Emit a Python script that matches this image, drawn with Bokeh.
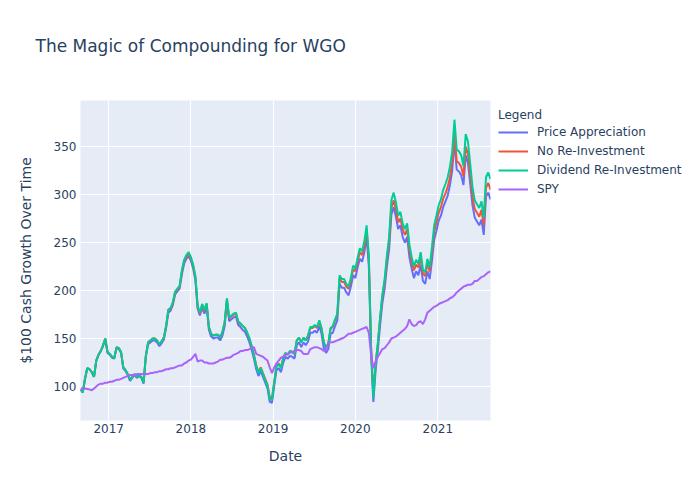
import pandas as pd
from bokeh.plotting import figure
from bokeh.models import (Range1d, FixedTicker, DatetimeTickFormatter, Legend,
                          LegendItem, ColumnDataSource, Title)
from bokeh.embed import file_html
from bokeh.resources import INLINE

# ---------------- data ----------------
start_date = "2016-08-29"
sample_step = "10D"

div_reinvest = [
    97, 94, 108, 119, 118, 115, 110, 127, 133, 137,
    143, 150, 136, 134, 131, 130, 141, 140, 136, 120,
    117, 113, 107, 110, 113, 110, 112, 110, 104, 132,
    146, 148, 150, 150, 148, 144, 147, 151, 163, 180,
    182, 188, 199, 202, 205, 221, 232, 237, 240, 235,
    227, 215, 184, 177, 186, 180, 187, 162, 155, 153,
    154, 154, 151, 157, 167, 192, 172, 174, 176, 177,
    168, 166, 163, 161, 156, 150, 142, 133, 121, 114,
    119, 113, 107, 101, 87, 86, 104, 121, 123, 119,
    129, 135, 133, 137, 136, 134, 148, 151, 146, 151,
    148, 153, 162, 162, 164, 162, 169, 161, 146, 140,
    145, 161, 163, 170, 176, 216, 212, 212, 207, 204,
    213, 226, 223, 234, 244, 241, 251, 268, 236, 140,
    88, 123, 145, 172, 196, 212, 236, 256, 294, 302,
    292, 278, 282, 270, 264, 270, 248, 235, 225, 232,
    228, 240, 222, 219, 233, 224, 245, 268, 278, 289,
    295, 305, 311, 318, 329, 345, 378, 347, 345, 341,
    330, 363, 355, 332, 308, 294, 290, 286, 293, 276,
    318, 323, 316,
]

price_appreciation = [
    97, 94, 108, 119, 118, 115, 110, 127, 133, 137,
    142, 149, 135, 133, 130, 129, 140, 139, 135, 119,
    116, 112, 106, 109, 112, 109, 111, 109, 103, 131,
    144, 146, 148, 148, 146, 142, 145, 149, 161, 177,
    179, 185, 196, 199, 202, 217, 228, 233, 236, 231,
    223, 211, 181, 174, 182, 176, 183, 159, 152, 150,
    151, 151, 148, 153, 163, 188, 168, 170, 172, 173,
    164, 162, 159, 157, 152, 146, 138, 129, 118, 111,
    116, 110, 104, 98, 84, 83, 101, 117, 119, 115,
    125, 131, 129, 132, 131, 129, 143, 146, 141, 146,
    143, 147, 156, 156, 158, 156, 163, 155, 140, 135,
    139, 155, 156, 163, 169, 207, 203, 203, 198, 195,
    204, 216, 213, 224, 233, 230, 240, 256, 225, 134,
    84, 117, 138, 164, 187, 202, 225, 243, 279, 287,
    277, 264, 268, 256, 250, 256, 235, 223, 213, 220,
    216, 227, 210, 207, 220, 212, 231, 253, 262, 273,
    278, 287, 293, 299, 310, 325, 356, 326, 324, 320,
    310, 341, 333, 311, 289, 276, 272, 268, 274, 258,
    298, 302, 295,
]

no_reinvest = [
    97, 94, 108, 119, 118, 115, 110, 127, 133, 137,
    143, 150, 136, 134, 131, 130, 141, 140, 136, 120,
    117, 113, 107, 110, 113, 110, 112, 110, 104, 132,
    146, 148, 150, 150, 148, 144, 147, 151, 163, 180,
    181, 187, 198, 201, 204, 220, 231, 235, 238, 233,
    226, 214, 183, 176, 185, 179, 186, 162, 155, 153,
    154, 154, 151, 157, 167, 191, 171, 173, 175, 176,
    167, 165, 163, 161, 156, 150, 142, 133, 122, 115,
    120, 114, 108, 102, 89, 88, 105, 122, 124, 120,
    130, 135, 133, 137, 136, 134, 148, 151, 146, 151,
    148, 153, 161, 161, 163, 161, 168, 160, 146, 140,
    145, 160, 162, 169, 175, 213, 209, 209, 204, 202,
    210, 222, 220, 230, 240, 237, 246, 263, 232, 140,
    91, 124, 145, 171, 194, 209, 232, 251, 286, 294,
    285, 271, 275, 264, 258, 264, 243, 230, 221, 227,
    224, 235, 218, 215, 228, 220, 240, 261, 271, 281,
    287, 296, 301, 308, 318, 333, 364, 335, 333, 329,
    319, 350, 342, 320, 298, 285, 281, 277, 284, 268,
    307, 312, 305,
]

spy = [
    98, 98, 98, 97.5, 97, 96, 98, 100, 102, 103,
    103, 104, 104, 105, 105, 106, 107, 107, 108, 109,
    110, 111, 112, 112, 112, 113, 113, 113, 113, 113,
    113, 114, 114, 115, 115, 116, 116, 117, 118, 118,
    119, 119, 120, 121, 122, 122, 124, 125, 127, 128,
    131, 134, 126, 127, 127, 125, 125, 124, 124, 124,
    125, 126, 128, 128, 129, 130, 130, 131, 133, 134,
    135, 137, 137, 138, 138, 139, 140, 141, 134, 133,
    132, 131, 129, 127, 120, 114, 120, 124, 127, 130,
    131, 133, 134, 135, 136, 137, 138, 138, 137, 134,
    134, 134, 139, 140, 141, 141, 140, 139, 137, 139,
    145, 146, 146, 147, 148, 149, 150, 151, 153, 155,
    155, 156, 157, 158, 159, 160, 161, 162, 156, 133,
    119, 126, 131, 135, 139, 140, 143, 146, 150, 151,
    152, 154, 156, 158, 160, 163, 170, 165, 163, 164,
    167, 168, 165, 170, 177, 179, 181, 183, 184, 186,
    187, 188, 189, 190, 192, 193, 195, 198, 200, 202,
    204, 205, 206, 206, 207, 210, 210, 212, 214, 215,
    217, 219, 220,
]

tick_years = [2017, 2018, 2019, 2020, 2021]
y_ticks = [100, 150, 200, 250, 300, 350]
series_names = ["Price Appreciation", "No Re-Investment", "Dividend Re-Investment", "SPY"]
series_colors = ["#636efa", "#EF553B", "#00cc96", "#ab63fa"]
chart_title = "The Magic of Compounding for WGO"

# ---------------- figure ----------------
dates = pd.date_range(start_date, periods=len(div_reinvest), freq=sample_step)
date_ms = [d.timestamp() * 1000 for d in dates]
src = ColumnDataSource(dict(date=date_ms, price=price_appreciation, noreinv=no_reinvest,
                            drip=div_reinvest, spy=spy))

FONT = "DejaVu Sans"
TXT = "#2a3f5f"

p = figure(frame_width=410, frame_height=320, x_axis_type="datetime", output_backend="svg",
           toolbar_location=None, title=None,
           x_range=Range1d(date_ms[0], date_ms[-1]), y_range=Range1d(64.6, 398),
           min_border_left=80, min_border_right=210, min_border_top=100,
           min_border_bottom=80)

# spacer between frame and title (added first -> closest to frame)
spacer = Title(text=" ", text_font=FONT, text_font_size="17px", standoff=18)
p.add_layout(spacer, "above")
main_title = Title(text=chart_title, align="left", offset=-45, standoff=10,
                   text_font=FONT, text_font_size="17px", text_font_style="normal",
                   text_color=TXT)
p.add_layout(main_title, "above")

p.background_fill_color = "#E5ECF6"
p.border_fill_color = "white"
p.outline_line_color = None

tick_ms = [pd.Timestamp(f"{y}-01-01").timestamp() * 1000 for y in tick_years]
p.xaxis.ticker = FixedTicker(ticks=tick_ms)
p.xaxis.formatter = DatetimeTickFormatter(years="%Y", months="%Y", days="%Y",
                                          hours="%Y", minutes="%Y")
p.yaxis.ticker = FixedTicker(ticks=y_ticks)

for ax in (p.xaxis, p.yaxis):
    ax.axis_line_color = None
    ax.major_tick_line_color = None
    ax.minor_tick_line_color = None
    ax.major_tick_in = 0
    ax.major_tick_out = 0
    ax.minor_tick_out = 0
    ax.major_label_text_font = FONT
    ax.major_label_text_font_size = "12px"
    ax.major_label_text_color = TXT
    ax.axis_label_text_font = FONT
    ax.axis_label_text_font_size = "14px"
    ax.axis_label_text_font_style = "normal"
    ax.axis_label_text_color = TXT

p.xaxis.axis_label = "Date"
p.xaxis.major_label_standoff = 3
p.xaxis.axis_label_standoff = 12
p.yaxis.axis_label = "$100 Cash Growth Over Time"
p.yaxis.major_label_standoff = 4
p.yaxis.axis_label_standoff = 17

p.xgrid.grid_line_color = "white"
p.ygrid.grid_line_color = "white"
p.xgrid.grid_line_width = 1
p.ygrid.grid_line_width = 1

renderers = []
for col, color in zip(["price", "noreinv", "drip", "spy"], series_colors):
    r = p.line(x="date", y=col, source=src, line_color=color, line_width=2)
    renderers.append(r)

legend = Legend(items=[LegendItem(label=n, renderers=[r]) for n, r in zip(series_names, renderers)],
                title="Legend", location="top_left", margin=8, padding=0,
                glyph_width=30, glyph_height=16, label_height=16, spacing=3,
                label_standoff=9, label_text_font=FONT, label_text_font_size="12px",
                label_text_color=TXT, title_text_font=FONT, title_text_font_size="12px",
                title_text_font_style="normal", title_text_color=TXT, title_standoff=2,
                border_line_color=None, background_fill_alpha=0)
p.add_layout(legend, "right")

open("out.html", "w").write(file_html(p, INLINE))
